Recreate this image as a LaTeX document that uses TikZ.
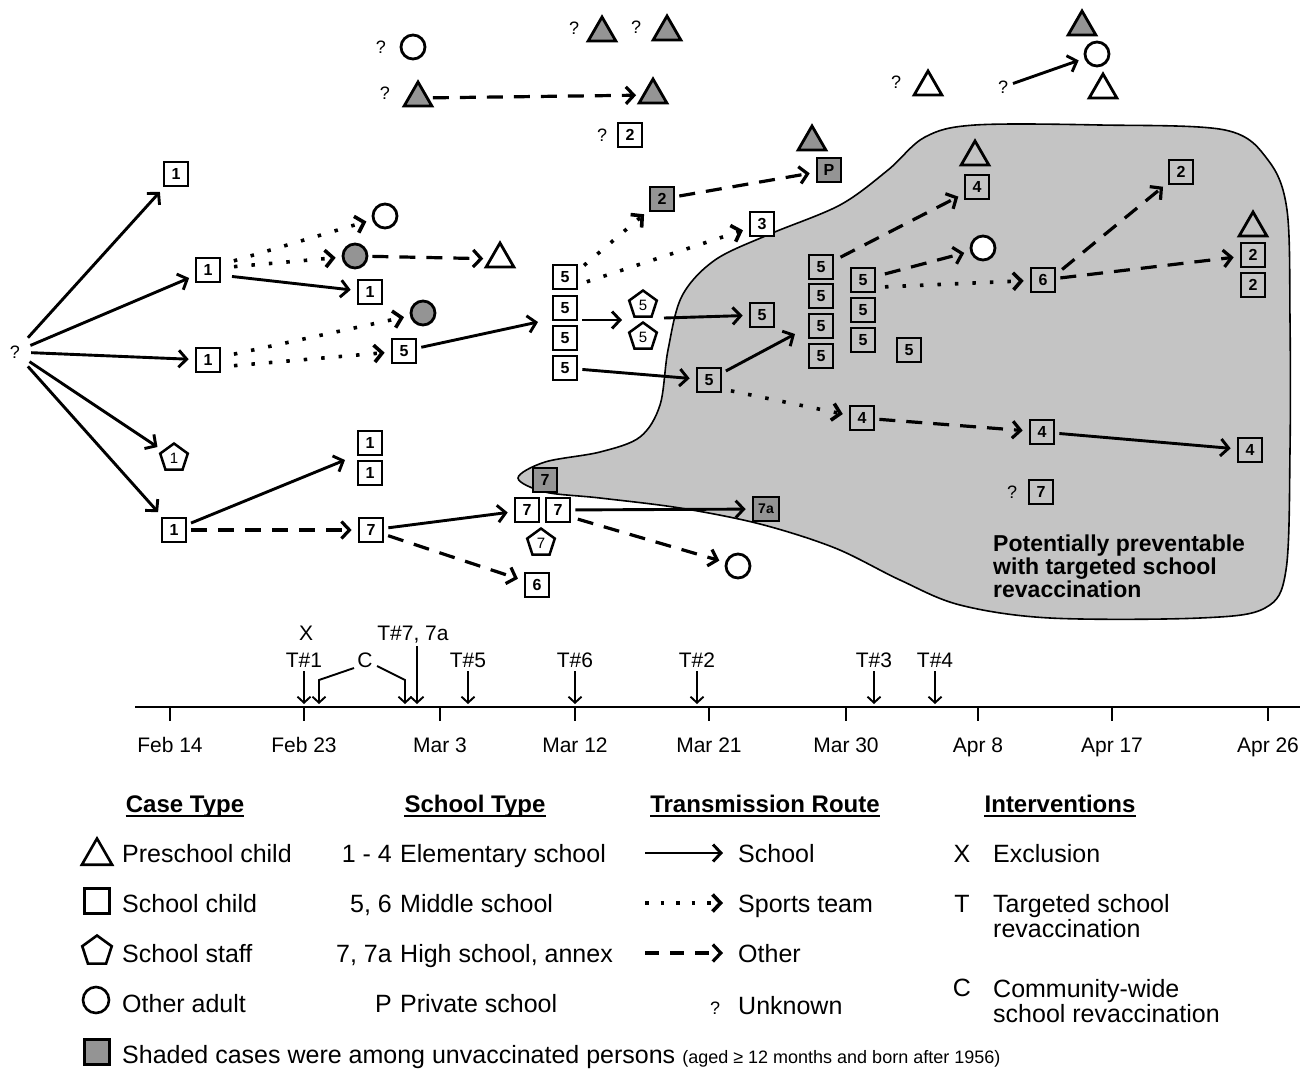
\documentclass[tikz,border=0pt]{standalone}
\usepackage{fontspec}
\setmainfont{Liberation Sans}
\usetikzlibrary{arrows.meta,shapes.geometric,calc}
\definecolor{shade}{gray}{0.58}
\definecolor{blobfill}{gray}{0.77}
\newcommand\fsz[1]{\fontsize{#1}{#1}\selectfont}
\begin{document}
\begin{tikzpicture}[x=1pt,y=-1pt,
  >={Straight Barb[length=8pt,width=17pt]},
  bx/.style={draw, line width=2.7pt, minimum size=24pt, inner sep=0pt, font=\bfseries\fsz{16}},
  sbx/.style={bx, fill=shade},
  tri/.style={draw, regular polygon, regular polygon sides=3, minimum size=32pt, inner sep=0pt, line width=2.8pt},
  stri/.style={tri, fill=shade},
  pent/.style={draw, regular polygon, regular polygon sides=5, minimum size=29pt, inner sep=0pt, line width=2.5pt, font=\fsz{15}},
  circ/.style={draw, circle, minimum size=24pt, inner sep=0pt, line width=2.8pt},
  scirc/.style={circ, fill=shade},
  qm/.style={font=\fsz{18}, inner sep=1pt},
  sch/.style={->, line width=2.9pt, shorten <=4pt, shorten >=6pt},
  spt/.style={->, line width=3.6pt, dash pattern=on 3.5pt off 14pt, shorten <=4pt, shorten >=6pt},
  oth/.style={->, line width=3.2pt, dash pattern=on 16pt off 11pt, shorten <=4pt, shorten >=6pt},
  tl/.style={font=\fsz{21}, inner sep=1pt},
  tar/.style={-{Straight Barb[length=6pt,width=13pt]}, line width=1.9pt},
  lg/.style={font=\fsz{25}, inner sep=0pt},
  hd/.style={font=\bfseries\fsz{24}, inner sep=0pt}
]
\useasboundingbox (0,0) rectangle (1314,1072);

% shaded region
\draw[line width=1.6pt, fill=blobfill] plot[smooth cycle, tension=0.55] coordinates {
(518,478) (545,462) (600,452) (640,437) (660,405) (668,350) (682,296) (715,260) (770,234) (840,205) (888,170) (925,137) (975,125) (1100,125) (1225,130) (1268,160) (1287,210) (1290,320) (1290,450) (1286,570) (1265,608) (1200,618) (1050,618) (960,605) (900,580) (835,548) (760,524) (680,508) (600,498) (545,492)};

% ---- left part
\node[qm] (q0) at (15,352) {?};
\node[bx] (A1) at (176,174) {1};
\node[bx] (B1) at (208,270) {1};
\node[bx] (C1) at (208,360) {1};
\node[pent] (P1) at (174,458) {1};
\node[bx] (D1) at (174,530) {1};
\node[circ] (oc1) at (385,216) {};
\node[scirc] (gc1) at (355,256) {};
\node[tri] (tr1) at (500,259) {};
\node[bx] (B1b) at (370,292) {1};
\node[scirc] (gc2) at (423,313) {};
\node[bx] (C5) at (404,351) {5};
\node[bx] (E1) at (370,443) {1};
\node[bx] (E2) at (370,473) {1};
\node[bx] (F7) at (371,530) {7};
\node[sbx] (G7s) at (545,480) {7};
\node[bx,fill=white] (G7a) at (527,510) {7};
\node[bx,fill=white] (G7b) at (558,510) {7};
\node[pent] (G7p) at (541,543) {7};
\node[bx] (H6) at (537,585) {6};
\node[sbx, minimum width=26pt, font=\bfseries\fsz{14}] (I7a) at (766,509) {7a};
\node[circ] (oc2) at (738,566) {};
\node[bx] (S1) at (565,277) {5};
\node[bx] (S2) at (565,308) {5};
\node[bx] (S3) at (565,338) {5};
\node[bx] (S4) at (565,368) {5};
\node[sbx] (K2) at (662,199) {2};
\node[bx,fill=white] (K3) at (762,224) {3};
\node[stri] (Pt) at (812,142) {};
\node[sbx] (Pp) at (829,170) {P};
\node[pent] (Q5a) at (643,305) {5};
\node[pent] (Q5b) at (643,337) {5};
\node[bx] (R5) at (762,315) {5};
\node[bx] (T5) at (709,380) {5};
\node[bx] (U1) at (821,267) {5};
\node[bx] (U2) at (821,296) {5};
\node[bx] (U3) at (821,326) {5};
\node[bx] (U4) at (821,356) {5};
\node[bx] (V1) at (863,280) {5};
\node[bx] (V2) at (863,310) {5};
\node[bx] (V3) at (863,340) {5};
\node[bx] (W5) at (909,350) {5};
\node[bx] (X4) at (862,418) {4};
\node[tri] (Yt) at (975,157) {};
\node[bx] (Y4) at (977,187) {4};
\node[circ,fill=white] (oc3) at (983,248) {};
\node[bx] (Z6) at (1043,280) {6};
\node[bx] (AA2) at (1181,172) {2};
\node[tri] (ABt) at (1253,228) {};
\node[bx] (AB2a) at (1253,255) {2};
\node[bx] (AB2b) at (1253,285) {2};
\node[bx] (AC4) at (1042,432) {4};
\node[bx] (AD4) at (1250,450) {4};
\node[qm] (q7) at (1012,492) {?};
\node[bx] (AE7) at (1041,492) {7};

% ---- top part
\node[qm] (qt1) at (381,47) {?};
\node[circ] (ot1) at (413,47) {};
\node[qm] (qt2) at (385,93) {?};
\node[stri] (gt1) at (418,98) {};
\node[stri] (gt2) at (653,95) {};
\node[qm] (qt3) at (574,28) {?};
\node[stri] (gt3) at (602,33) {};
\node[qm] (qt4) at (636,27) {?};
\node[stri] (gt4) at (667,32) {};
\node[qm] (qt5) at (602,135) {?};
\node[bx] (bt2) at (630,135) {2};
\node[qm] (qt6) at (896,82) {?};
\node[tri] (tt1) at (928,87) {};
\node[qm] (qt7) at (1003,87) {?};
\node[stri] (gt5) at (1082,27) {};
\node[circ] (oc4) at (1097,54) {};
\node[tri] (tt2) at (1103,90) {};

% coordinates for arrow ends between stacked cases
\coordinate (Sin) at (538,322);
\coordinate (Ein) at (345,460);
\coordinate (Uin) at (795,334);
\coordinate (Qin) at (622,320);
\coordinate (Qout) at (664,318);

% ---- school (solid)
\draw[sch, shorten <=10pt] (q0) -- (A1);
\draw[sch, shorten <=10pt] (q0) -- (B1);
\draw[sch, shorten <=10pt] (q0) -- (C1);
\draw[sch, shorten <=10pt] (q0) -- (P1);
\draw[sch, shorten <=10pt] (q0) -- (D1);
\draw[sch] ($(B1)+(20,6)$) -- (B1b);
\draw[sch, shorten >=0pt] (C5) -- (Sin);
\draw[sch, shorten >=0pt] (D1) -- (Ein);
\draw[sch] (F7) -- (G7a);
\draw[sch] (G7b) -- (I7a);
\draw[sch, shorten >=0pt] (S2.east|-Qin) -- (Qin);
\draw[sch, shorten <=0pt] (Qout) -- (R5);
\draw[sch] (S4) -- (T5);
\draw[sch, shorten >=0pt] (T5) -- (Uin);
\draw[sch] (AC4) -- (AD4);
\draw[sch] (qt7) -- (oc4);

% ---- sports team (dotted)
\draw[spt] ($(B1)+(22,-8)$) -- (oc1);
\draw[spt] ($(B1)+(22,-3)$) -- (gc1);
\draw[spt] ($(C1)+(22,-5)$) -- (gc2);
\draw[spt] ($(C1)+(22,6)$) -- (C5);
\draw[spt] ($(S1)+(16,-9)$) -- (K2);
\draw[spt] ($(S1)+(18,6)$) -- (K3);
\draw[spt] ($(T5)+(18,10)$) -- (X4);
\draw[spt] ($(V1)+(18,7)$) -- (Z6);

% ---- other (dashed)
\draw[oth] (gc1) -- (tr1);
\draw[oth] (gt1) -- (gt2);
\draw[oth] (D1) -- (F7);
\draw[oth] (F7) -- (H6);
\draw[oth] ($(G7b)+(16,8)$) -- (oc2);
\draw[oth] (K2) -- (Pp);
\draw[oth] ($(U1)+(16,-8)$) -- (Y4);
\draw[oth] ($(V1)+(18,-5)$) -- (oc3);
\draw[oth] ($(Z6)+(16,-8)$) -- (AA2);
\draw[oth] (Z6) -- (AB2a);
\draw[oth] (X4) -- (AC4);

% ---- text in the region
\node[font=\bfseries\fsz{23}, align=left, anchor=north west, inner sep=0pt] (ptxt) at (993,535)
  {\baselineskip=27pt Potentially preventable\\with targeted school\\revaccination};

% ---- timeline
\coordinate (ax0) at (135,707);
\coordinate (ax1) at (1300,707);
\coordinate (axA) at (0,704);
\draw[line width=2pt] (ax0) -- (ax1);
\foreach \x/\l [count=\i] in {170/Feb 14, 304/Feb 23, 440/Mar 3, 575/Mar 12, 709/Mar 21, 846/Mar 30, 978/Apr 8, 1112/Apr 17, 1268/Apr 26} {
  \coordinate (tk\i) at (\x,707);
  \draw[line width=1.6pt] (tk\i) -- ++(0,14);
  \node[tl, anchor=base] (dl\i) at (\x,752) {\l};
}
\node[tl, anchor=base] (tX) at (306,640) {X};
\node[tl, anchor=base] (tT1) at (304,667) {T\#1};
\node[tl, anchor=base] (tC) at (365,667) {C};
\node[tl, anchor=base] (tT7) at (413,640) {T\#7, 7a};
\node[tl, anchor=base] (tT5) at (468,667) {T\#5};
\node[tl, anchor=base] (tT6) at (575,667) {T\#6};
\node[tl, anchor=base] (tT2) at (697,667) {T\#2};
\node[tl, anchor=base] (tT3) at (874,667) {T\#3};
\node[tl, anchor=base] (tT4) at (935,667) {T\#4};
\draw[tar] ([yshift=-4pt]tT1.base) -- (tT1.base|-axA);
\draw[tar] ([yshift=-4pt]tT5.base) -- (tT5.base|-axA);
\draw[tar] ([yshift=-4pt]tT6.base) -- (tT6.base|-axA);
\draw[tar] ([yshift=-4pt]tT2.base) -- (tT2.base|-axA);
\draw[tar] ([yshift=-4pt]tT3.base) -- (tT3.base|-axA);
\draw[tar] ([yshift=-4pt]tT4.base) -- (tT4.base|-axA);
\coordinate (cL) at (319,680);
\coordinate (cR) at (405,680);
\coordinate (cLs) at (354,668);
\coordinate (cRs) at (377,666);
\coordinate (t7b) at (417,646);
\draw[tar] (cLs) -- (cL) -- (cL|-axA);
\draw[tar] (cRs) -- (cR) -- (cR|-axA);
\draw[tar] (t7b) -- (t7b|-axA);

% ---- legend
\node[hd, anchor=base] (h1) at (185,812) {Case Type};
\node[hd, anchor=base] (h2) at (475,812) {School Type};
\node[hd, anchor=base] (h3) at (765,812) {Transmission Route};
\node[hd, anchor=base] (h4) at (1060,812) {Interventions};
\foreach \h in {h1,h2,h3,h4}
  \draw[line width=1.8pt] ([yshift=-4pt]\h.base west) -- ([yshift=-4pt]\h.base east);

\node[draw, regular polygon, regular polygon sides=3, minimum size=35pt, inner sep=0pt, line width=2.6pt] (lt) at (97,856) {};
\node[draw, minimum size=25pt, inner sep=0pt, line width=2.6pt] (ls) at (97,901) {};
\node[draw, regular polygon, regular polygon sides=5, minimum size=31pt, inner sep=0pt, line width=2.6pt] (lp) at (97,951) {};
\node[draw, circle, minimum size=26pt, inner sep=0pt, line width=2.6pt] (lc) at (96,1000) {};
\node[draw, minimum size=25pt, inner sep=0pt, line width=2.6pt, fill=shade] (lsh) at (97,1052) {};
\node[lg, anchor=base west] (l1) at (122,862) {Preschool child};
\node[lg, anchor=base west] (l2) at (122,912) {School child};
\node[lg, anchor=base west] (l3) at (122,962) {School staff};
\node[lg, anchor=base west] (l4) at (122,1012) {Other adult};
\node[lg, anchor=base west] (l5) at (122,1063) {Shaded cases were among unvaccinated persons {\fsz{18}(aged ≥ 12 months and born after 1956)}};

\node[lg, anchor=base east] (n1) at (392,862) {1 - 4};
\node[lg, anchor=base east] (n2) at (392,912) {5, 6};
\node[lg, anchor=base east] (n3) at (392,962) {7, 7a};
\node[lg, anchor=base east] (n4) at (392,1012) {P};
\node[lg, anchor=base west] (s1) at (400,862) {Elementary school};
\node[lg, anchor=base west] (s2) at (400,912) {Middle school};
\node[lg, anchor=base west] (s3) at (400,962) {High school, annex};
\node[lg, anchor=base west] (s4) at (400,1012) {Private school};

\coordinate (ra1) at (645,853); \coordinate (rb1) at (723,853);
\coordinate (ra2) at (645,903); \coordinate (rb2) at (723,903);
\coordinate (ra3) at (645,953); \coordinate (rb3) at (723,953);
\draw[sch, shorten <=0pt, shorten >=0pt] (ra1) -- (rb1);
\draw[spt, shorten <=0pt, shorten >=0pt, dash pattern=on 3.5pt off 12pt] (ra2) -- (rb2);
\draw[oth, shorten <=0pt, shorten >=0pt, dash pattern=on 14pt off 11pt] (ra3) -- (rb3);
\node[qm] (r4q) at (715,1008) {?};
\node[lg, anchor=base west] (r1) at (738,862) {School};
\node[lg, anchor=base west] (r2) at (738,912) {Sports team};
\node[lg, anchor=base west] (r3) at (738,962) {Other};
\node[lg, anchor=base west] (r4) at (738,1014) {Unknown};

\node[lg, anchor=base] (iX) at (962,862) {X};
\node[lg, anchor=base] (iT) at (962,912) {T};
\node[lg, anchor=base] (iC) at (962,996) {C};
\node[lg, anchor=base west] (e1) at (993,862) {Exclusion};
\node[lg, anchor=north west, align=left] (e2) at (993,894) {\baselineskip=29pt Targeted school\\revaccination};
\node[lg, anchor=north west, align=left] (e3) at (993,979) {\baselineskip=28pt Community-wide\\school revaccination};
\end{tikzpicture}
\end{document}
